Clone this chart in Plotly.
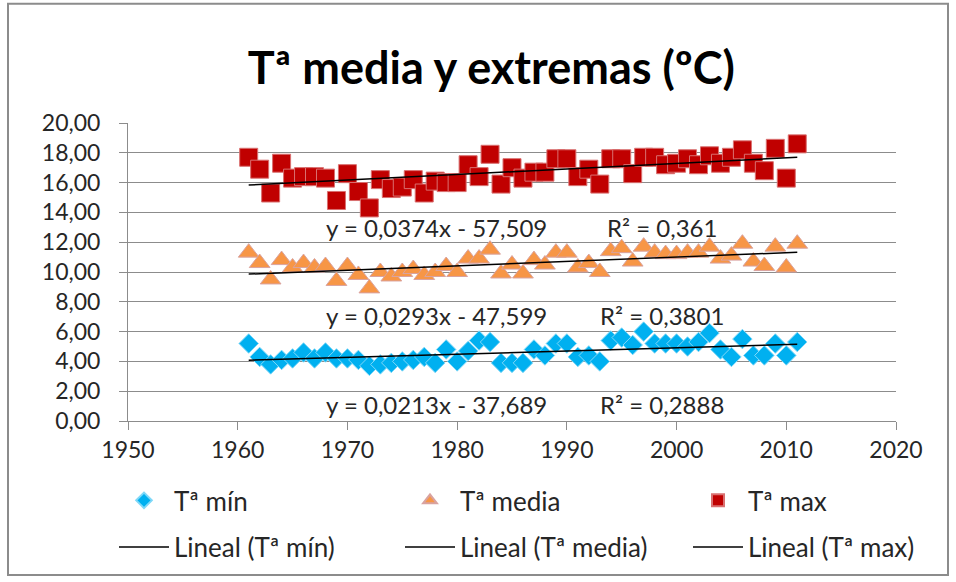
import plotly.graph_objects as go

# Datos (1961-2011)
YEARS = list(range(1961, 2012))

T_MIN = [
    5.2, 4.3, 3.8, 4.1, 4.2, 4.6, 4.2, 4.6, 4.2, 4.2,
    4.1, 3.7, 3.8, 3.9, 4.0, 4.1, 4.3, 3.9, 4.8, 4.0,
    4.7, 5.4, 5.3, 3.9, 3.9, 3.9, 4.8, 4.4, 5.2, 5.2,
    4.3, 4.4, 4.0, 5.4, 5.6, 5.1, 6.0, 5.2, 5.2, 5.2,
    5.0, 5.3, 5.9, 4.8, 4.3, 5.5, 4.4, 4.4, 5.2, 4.4,
    5.3,
]
T_MEDIA = [
    11.3, 10.6, 9.5, 10.8, 10.3, 10.6, 10.3, 10.4, 9.4, 10.4,
    9.8, 8.9, 10.0, 9.7, 10.0, 10.2, 9.8, 10.0, 10.4, 10.0,
    10.9, 10.9, 11.5, 9.9, 10.5, 9.9, 10.8, 10.5, 11.3, 11.3,
    10.3, 10.6, 10.0, 11.4, 11.6, 10.7, 11.7, 11.3, 11.2, 11.2,
    11.3, 11.3, 11.7, 10.9, 11.1, 11.9, 10.7, 10.4, 11.7, 10.3,
    11.9,
]
T_MAX = [
    17.7, 16.9, 15.3, 17.3, 16.3, 16.4, 16.4, 16.3, 14.8, 16.6,
    15.4, 14.3, 16.2, 15.6, 15.7, 16.2, 15.3, 16.1, 16.0, 16.0,
    17.2, 16.4, 17.9, 15.9, 17.0, 16.3, 16.7, 16.7, 17.6, 17.6,
    16.4, 16.9, 15.9, 17.6, 17.6, 16.6, 17.7, 17.7, 17.2, 17.3,
    17.6, 17.2, 17.8, 17.3, 17.7, 18.2, 17.3, 16.8, 18.3, 16.3,
    18.6,
]

# Líneas de tendencia (coeficientes mostrados en el gráfico)
SLOPES = [0.0213, 0.0293, 0.0374]
INTERCEPTS = [-37.689, -47.599, -57.509]
EQ_LABELS = ["y = 0,0213x - 37,689", "y = 0,0293x - 47,599", "y = 0,0374x - 57,509"]
R2_LABELS = ["R² = 0,2888", "R² = 0,3801", "R² = 0,361"]
EQ_Y = [1.1, 7.1, 13.0]

NAMES = ["Tª mín", "Tª media", "Tª max"]
COLORS = ["#00B0F0", "#F79646", "#C00000"]
SYMBOLS = ["diamond", "triangle-up", "square"]
SIZES = [15, 18, 18]
EDGES = ["#7FD8F8", "#D9A3A0", "#D97070"]

FONT = "Lato, 'Open Sans', sans-serif"
GRID = "#8C8C8C"
TEXT = "#262626"

# Geometría del área de trazado (px)
L, T, W, H = 128, 123, 768, 300
LEG_X = [114, 400, 688]   # inicio de cada columna de leyenda
LEG_Y = [503, 550]        # filas: marcadores, tendencias

fig = go.Figure()

for i, (vals, name, c, sym, sz, edge) in enumerate(zip([T_MIN, T_MEDIA, T_MAX], NAMES, COLORS, SYMBOLS, SIZES, EDGES)):
    fig.add_trace(go.Scatter(
        x=YEARS, y=vals, name=name, mode="markers", showlegend=True,
        marker=dict(symbol=sym, size=sz, color=c, line=dict(color=edge, width=1)),
        legend="legend" if i == 0 else f"legend{i + 1}",
    ))

for i, (a, b, name) in enumerate(zip(SLOPES, INTERCEPTS, NAMES)):
    xs = [YEARS[0], YEARS[-1]]
    fig.add_trace(go.Scatter(
        x=xs, y=[a * x + b for x in xs], name=f"Lineal ({name})",
        mode="lines", showlegend=True, line=dict(color="black", width=1.5),
        legend=f"legend{i + 4}",
    ))

for eq, r2, yv in zip(EQ_LABELS, R2_LABELS, EQ_Y):
    fig.add_annotation(x=1978.1, y=yv, text=eq, showarrow=False,
                       font=dict(size=24, color=TEXT))
    fig.add_annotation(x=1998.7, y=yv, text=r2, showarrow=False,
                       font=dict(size=24, color=TEXT))

# Marco exterior del área del gráfico
fig.add_shape(type="rect", xref="paper", yref="paper",
              x0=(8 - L) / W, x1=(948 - L) / W,
              y0=(T + H - 3) / H, y1=(T + H - 578) / H,
              line=dict(color="#8C8C8C", width=2), layer="below")

# Una leyenda por entrada para fijar la rejilla 3x2
legends = {}
for row, py in enumerate(LEG_Y):
    for col, px in enumerate(LEG_X):
        k = row * 3 + col
        key = "legend" if k == 0 else f"legend{k + 1}"
        legends[key] = dict(
            x=(px - L) / W, y=(T + H - py) / H,
            xanchor="left", yanchor="middle", orientation="h",
            font=dict(family=FONT, size=26, color=TEXT),
            itemwidth=50, itemsizing="constant" if row == 0 else "trace",
            bgcolor="rgba(0,0,0,0)",
        )

fig.update_layout(
    width=956, height=582,
    showlegend=True,
    margin=dict(l=L, r=956 - L - W, t=T, b=582 - T - H),
    paper_bgcolor="white", plot_bgcolor="white",
    font=dict(family=FONT, size=23, color=TEXT),
    separators=", ",
    title=dict(text="<b>Tª media y extremas (ºC)</b>", x=0.514, xanchor="center",
               y=1 - 68 / 582, yanchor="middle",
               font=dict(family=FONT, size=45, color="black")),
    xaxis=dict(range=[1950, 2020], dtick=10, tick0=1950, showgrid=False,
               showline=True, linecolor=GRID, linewidth=1,
               ticks="outside", ticklen=8, tickcolor=GRID,
               tickfont=dict(size=23), zeroline=False),
    yaxis=dict(range=[0, 20], dtick=2, tickformat=".2f",
               showgrid=True, gridcolor=GRID, gridwidth=1,
               showline=True, linecolor=GRID, linewidth=1,
               ticks="outside", ticklen=8, tickcolor=GRID,
               ticklabelstandoff=14,
               tickfont=dict(size=23), zeroline=False),
    **legends,
)

# sin margen del <body> para que la figura ocupe la ventana exacta
fig.write_html("out.html", config={"displayModeBar": False},
               post_script="document.body.style.margin='0';")
